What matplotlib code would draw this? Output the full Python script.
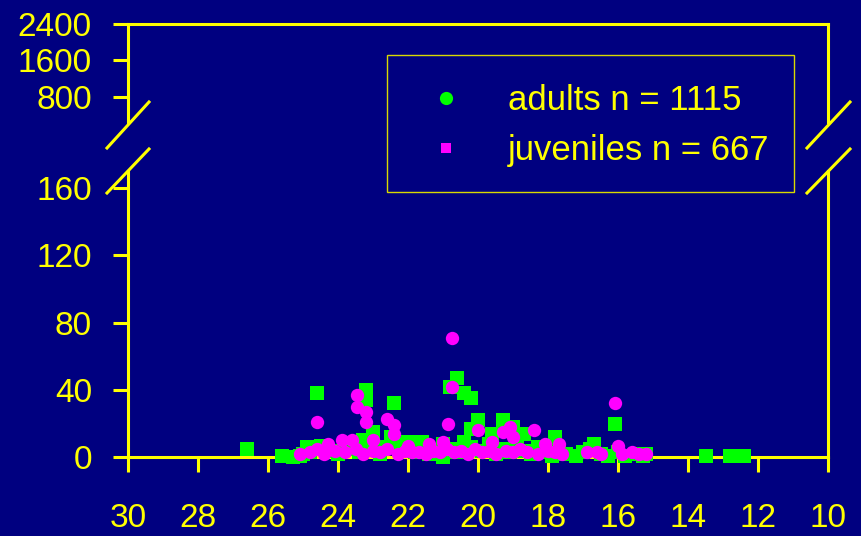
import matplotlib
matplotlib.use("Agg")
import matplotlib.pyplot as plt
from matplotlib.lines import Line2D
from matplotlib.patches import Rectangle

plt.rcParams['font.family'] = ['Liberation Sans', 'DejaVu Sans']

# ---------------- data ----------------
adult_x = [26.6, 25.6, 25.1, 24.6, 24.7, 24.8, 23.2, 23.2, 23.0, 23.3, 22.4, 22.5, 22.3,
           20.6, 20.8, 20.4, 20.2, 20.0, 20.2, 19.3, 19.0, 19.6, 18.7, 17.8, 16.7, 16.1,
           21.6, 22.0, 21.0, 13.5, 12.8, 12.4,
           25.3, 25.0, 24.9, 24.5, 24.2, 24.0, 23.8, 23.6, 23.4, 23.0, 22.8, 22.6, 22.2,
           22.0, 21.8, 21.6, 21.4, 21.2, 21.0, 20.8, 20.6, 20.4, 20.2, 19.9, 19.7, 19.5,
           19.3, 19.1, 18.9, 18.7, 18.5, 18.3, 18.1, 17.9, 17.7, 17.5, 17.2, 17.0, 16.8,
           16.5, 16.3, 16.0, 15.8, 15.5, 15.3, 15.2]
adult_y = [5, 1, 1, 38, 6, 3, 40, 34, 15, 10, 32, 12, 8,
           47, 42, 38, 35, 22, 17, 22, 18, 14, 14, 12, 8, 20,
           9, 9, 8, 1, 1, 1,
           0, 2, 6, 7, 4, 2, 5, 8, 3, 5, 2, 6, 4,
           6, 3, 5, 2, 4, 0, 5, 3, 9, 6, 4, 8, 2,
           5, 3, 8, 4, 2, 6, 3, 1, 4, 2, 1, 3, 5,
           2, 1, 3, 1, 2, 1, 2]

juv_x = [20.75, 20.75, 20.85, 24.6, 23.45, 23.45, 23.2, 23.2, 22.6, 22.4, 22.4, 20.0,
         19.3, 19.1, 19.0, 19.6, 18.4, 16.1, 18.1, 17.7, 16.0, 21.0, 23.9, 24.3, 23.6,
         23.0, 22.0, 21.4,
         25.1, 24.8, 24.6, 24.4, 24.1, 23.8, 23.5, 23.3, 23.0, 22.8, 22.6, 22.3, 22.1,
         21.9, 21.7, 21.5, 21.3, 21.1, 20.9, 20.7, 20.5, 20.3, 20.1, 19.9, 19.7, 19.5,
         19.2, 19.0, 18.8, 18.6, 18.3, 18.0, 17.8, 17.6, 16.9, 16.6, 16.5, 15.9, 15.6,
         15.4, 15.2]
juv_y = [71, 42, 20, 21, 37, 30, 27, 21, 23, 19, 14, 16,
         15, 18, 12, 9, 16, 32, 8, 8, 7, 9, 10, 8, 10,
         10, 7, 8,
         2, 3, 5, 2, 4, 3, 5, 2, 4, 3, 5, 2, 4,
         3, 3, 2, 4, 3, 5, 3, 4, 2, 5, 3, 4, 2,
         4, 3, 5, 3, 2, 4, 3, 2, 3, 3, 2, 2, 3,
         2, 2]

x_ticks = [30, 28, 26, 24, 22, 20, 18, 16, 14, 12, 10]
low_ticks = [0, 40, 80, 120, 160]
high_ticks = [800, 1600, 2400]
labels = ['adults n = 1115', 'juveniles n = 667']

# ---------------- style ----------------
BG = '#000080'
YEL = '#FFFF00'
GRN = '#00FF00'
MAG = '#FF00FF'
FS = 24
LFS = 25
LW = 2.2

W, H = 861, 536
fig = plt.figure(figsize=(W / 100, H / 100), dpi=100, facecolor=BG)

def fx(px):
    return px / W

def fy(py):
    return 1 - py / H

# bottom (low) axes
axb = fig.add_axes([fx(128), fy(457.3), fx(828) - fx(128), fy(171) - fy(457.3)])
# top (high) axes
axt = fig.add_axes([fx(128), fy(122), fx(828) - fx(128), fy(24) - fy(122)])

for ax in (axb, axt):
    ax.set_facecolor('none')
    for s in ax.spines.values():
        s.set_color(YEL)
        s.set_linewidth(LW)
    ax.tick_params(colors=YEL, labelcolor=YEL, labelsize=FS, width=LW, length=11,
                   direction='out')
    ax.set_xlim(30, 10)

axb.spines['top'].set_visible(False)
axt.spines['bottom'].set_visible(False)

axb.set_ylim(0, 170)
axb.set_yticks(low_ticks)
axb.set_xticks(x_ticks)
axb.tick_params(axis='x', pad=22)
axb.tick_params(axis='y', pad=15)

axt.set_ylim(252, 2400)
axt.set_yticks(high_ticks)
axt.set_xticks([])
axt.tick_params(axis='y', pad=15)

axb.plot(adult_x, adult_y, linestyle='none', marker='s', markersize=9.6,
         markerfacecolor=GRN, markeredgewidth=0, clip_on=False, zorder=5)
axb.plot(juv_x, juv_y, linestyle='none', marker='o', markersize=9.6,
         markerfacecolor=MAG, markeredgewidth=0, clip_on=False, zorder=6)

# break marks
for xs in ((107, 149), (807, 850)):
    for ys in ((148, 102), (193, 149)):
        fig.add_artist(Line2D([fx(xs[0]), fx(xs[1])], [fy(ys[0]), fy(ys[1])],
                              color=YEL, linewidth=LW, transform=fig.transFigure))

# legend
fig.add_artist(Rectangle((fx(387), fy(192)), fx(794) - fx(387), fy(55) - fy(192),
                         transform=fig.transFigure, facecolor='none',
                         edgecolor='#D8D800', linewidth=1.0))
handles = [Line2D([], [], linestyle='none', marker='o', markersize=9.5,
                  markerfacecolor=GRN, markeredgewidth=0),
           Line2D([], [], linestyle='none', marker='s', markersize=7,
                  markerfacecolor=MAG, markeredgewidth=0)]
leg = fig.legend(handles, labels, loc='upper left',
                 bbox_to_anchor=(fx(428.6), fy(84)), frameon=False,
                 fontsize=LFS, handlelength=1.0, handletextpad=1.29,
                 labelspacing=0.49, borderpad=0, borderaxespad=0)
for t in leg.get_texts():
    t.set_color(YEL)

fig.savefig('out.png', dpi=100, facecolor=BG)
